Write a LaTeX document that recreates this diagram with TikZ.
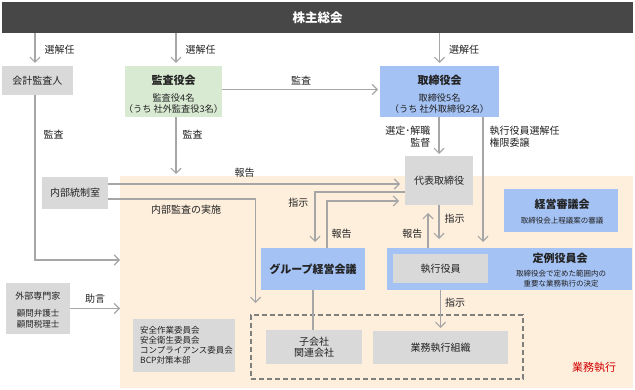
\documentclass[tikz,border=0pt]{standalone}
\usepackage{fontspec}
\setmainfont{Noto Sans CJK JP}
\usetikzlibrary{arrows.meta}
\definecolor{barc}{HTML}{474747}
\definecolor{grayc}{HTML}{D9D9D9}
\definecolor{greenc}{HTML}{D9EAD3}
\definecolor{bluec}{HTML}{A4C2F4}
\definecolor{peachc}{HTML}{FEEFDD}
\definecolor{linec}{HTML}{A6A6A6}
\definecolor{dashc}{HTML}{7F7F7F}
\definecolor{txtc}{HTML}{222222}
\definecolor{redc}{HTML}{D00000}
\newcommand{\myfs}[2]{\fontsize{#1}{#2}\selectfont}
\begin{document}
\begin{tikzpicture}[x=1pt,y=-1pt, font=\myfs{10}{12}, text=txtc,
  box/.style={anchor=north west, inner sep=0pt, outer sep=0pt},
  gbox/.style={box, fill=grayc},
  bbox/.style={box, fill=bluec},
  arr/.style={draw=linec, line width=1.2pt, -{Straight Barb[length=5pt,width=10pt]}},
  ln/.style={draw=linec, line width=1.2pt},
  lbl/.style={inner sep=1pt, font=\myfs{10}{12}},
  ttl/.style={inner sep=0pt, font=\bfseries\myfs{11}{13}},
  subt/.style={inner sep=0pt, align=center, font=\myfs{7.5}{10}},
  info/.style={inner sep=0pt, align=center, font=\myfs{9.2}{11}}]
\useasboundingbox (0,0) rectangle (635,390);

% business execution region
\node[box, fill=peachc, minimum width=513pt, minimum height=212pt] (peach) at (120,176) {};

% top bar
\node[box, fill=barc, minimum width=631pt, minimum height=31pt, text=white, font=\bfseries\myfs{12.5}{14}] (sh) at (2,2) {株主総会};

% boxes
\node[gbox, minimum width=71pt, minimum height=29pt] (kaikei) at (2,66) {会計監査人};

\node[box, fill=greenc, minimum width=97pt, minimum height=51pt] (kansa) at (125,66) {};
\node[ttl] (kansaT) at (173.5,80) {監査役会};
\node[info] (kansaS) at (173.5,103.5) {監査役4名\\（うち 社外監査役3名）};

\node[bbox, minimum width=119pt, minimum height=51pt] (tori) at (380,66) {};
\node[ttl] (toriT) at (439.5,80) {取締役会};
\node[info] (toriS) at (439.5,103.5) {取締役5名\\（うち 社外取締役2名）};

\node[gbox, minimum width=68pt, minimum height=49pt] (daihyo) at (405,156) {代表取締役};

\node[gbox, minimum width=66pt, minimum height=32pt] (naibu) at (42,177) {内部統制室};

\node[bbox, minimum width=114pt, minimum height=43pt] (keiei) at (504,189) {};
\node[ttl] (keieiT) at (562,204) {経営審議会};
\node[subt] (keieiS) at (562,221) {取締役会上程議案の審議};

\node[bbox, minimum width=104pt, minimum height=42pt, font=\bfseries\myfs{11}{13}] (group) at (261,248) {グループ経営会議};

\node[bbox, minimum width=245pt, minimum height=42pt] (teirei) at (387,248) {};
\node[gbox, minimum width=95pt, minimum height=29pt] (shikko) at (393,254) {執行役員};
\node[ttl] (teireiT) at (560,258) {定例役員会};
\node[subt] (teireiS) at (561,279) {取締役会で定めた範囲内の\\重要な業務執行の決定};

\node[box, draw=dashc, line width=1.5pt, dash pattern=on 5pt off 3pt, minimum width=272pt, minimum height=64pt] (dashed) at (251,315) {};
\node[gbox, minimum width=96pt, minimum height=34pt, align=center, font=\myfs{10}{11.5}] (kogaisha) at (266,330) {子会社\\関連会社};
\node[gbox, minimum width=135pt, minimum height=33pt] (gyomu) at (373,331) {業務執行組織};

\node[gbox, minimum width=64pt, minimum height=51pt] (gaibu) at (6,283) {};
\node[inner sep=0pt, font=\myfs{9}{11}] (gaibuT) at (38,296) {外部専門家};
\node[inner sep=0pt, align=center, font=\myfs{8.5}{11}] (gaibuS) at (38,318.5) {顧問弁護士\\顧問税理士};

\node[gbox, minimum width=102pt, minimum height=53pt] (iinkai) at (133,319) {};
\node[anchor=west, inner sep=0pt, align=left, font=\myfs{8.5}{10}] (iinkaiT) at (140,345.5) {安全作業委員会\\安全衛生委員会\\コンプライアンス委員会\\BCP対策本部};

\node[inner sep=0pt, text=redc, font=\myfs{11}{13}] (gyomuL) at (594,367) {業務執行};

% connectors
\coordinate (k1) at ([xshift=-2.5pt]kaikei.north);
\coordinate (k2) at ([xshift=-2.5pt]kaikei.south);
\coordinate (m1) at ([xshift=2.5pt]kansa.north);
\coordinate (m2) at ([xshift=2.5pt]kansa.south);

\draw[arr, shorten >=3pt] (k1 |- sh.south) -- node[lbl, right=8pt] (l1) {選解任} (k1);
\draw[arr, shorten >=3pt] (m1 |- sh.south) -- node[lbl, right=8pt] (l2) {選解任} (m1);
\draw[arr, shorten >=3pt] (tori.north |- sh.south) -- node[lbl, right=8pt] (l3) {選解任} (tori.north);

\draw[arr, shorten >=2pt] ([yshift=2pt]kansa.east) -- node[lbl, above=3pt] (l4) {監査} ([yshift=2pt]tori.west);

\draw[arr, shorten >=2pt] (daihyo.north |- tori.south) -- node[lbl, left=7pt, align=right] (l5) {選定･解職\\監督} (daihyo.north);

\coordinate (t1) at ([xshift=43.5pt]tori.south);
\draw[arr, shorten >=6pt] (t1) -- node[lbl, right=5pt, align=left, pos=0.15] (l6) {執行役員選解任\\権限委譲} (t1 |- teirei.north);

\draw[arr] (k2) |- node[lbl, right=7pt, pos=0.12] (l7) {監査} ([yshift=22pt]peach.west);

\draw[arr, shorten >=2pt] (m2) -- node[lbl, right=5pt, pos=0.29] (l8) {監査} (m2 |- peach.north);

\coordinate (n1) at ([yshift=9pt]naibu.east);
\draw[arr, shorten >=5pt] (n1) -- node[lbl, above=5pt, pos=0.46] (l9) {報告} (n1 -| daihyo.west);

\coordinate (n2) at ([yshift=-6pt]naibu.east);
\draw[arr, shorten >=12pt] (n2) -| node[lbl, below=4pt, pos=0.265] (l10) {内部監査の実施} ([xshift=4.5pt]dashed.north west);

\coordinate (d1) at ([yshift=-11.5pt]daihyo.west);
\draw[arr, shorten >=6pt] (d1) -| node[lbl, left=5pt, pos=0.6] (l11) {指示} ([xshift=2pt]group.north);

\coordinate (g1) at ([xshift=14pt]group.north);
\draw[arr, shorten >=6pt] (g1) |- node[lbl, right=3pt, pos=0.15] (l12) {報告} ([yshift=-20.5pt]daihyo.west);

\draw[ln] (group.south) -- (group.south |- kogaisha.north);

\coordinate (r1) at ([xshift=-11pt]daihyo.south);
\draw[arr, shorten >=8pt] (r1 |- teirei.north) -- node[lbl, left=4pt, pos=0.33] (l13) {報告} (r1);

\draw[arr, shorten >=9pt] (daihyo.south) -- node[lbl, right=4pt, pos=0.33] (l14) {指示} (daihyo.south |- teirei.north);

\draw[arr, shorten >=3pt] (gyomu.north |- teirei.south) -- node[lbl, right=3pt, pos=0.32] (l15) {指示} (gyomu.north);

\draw[arr] (gaibu.east) -- node[lbl, above=4pt] (l16) {助言} (gaibu.east -| peach.west);
\end{tikzpicture}
\end{document}
